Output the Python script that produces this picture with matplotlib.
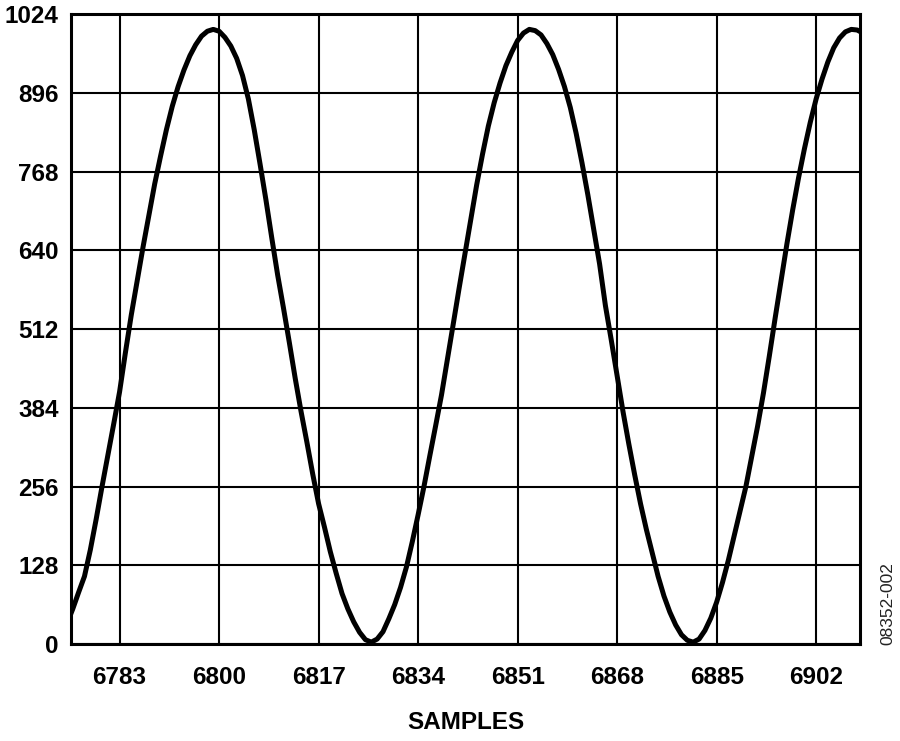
import matplotlib
matplotlib.use("Agg")
import matplotlib.pyplot as plt
import numpy as np

# one output code per sample (samples 6774 .. 6910)
samples = np.arange(6774, 6911)
codes = [
    33, 57, 84, 110, 153, 203, 256, 307, 358, 410,
    474, 535, 590, 645, 697, 748, 793, 836, 874, 906,
    933, 956, 974, 988, 996, 999, 996, 986, 972, 952,
    924, 886, 836, 780, 722, 660, 600, 546, 490, 432,
    378, 328, 276, 228, 190, 150, 115, 82, 57, 36,
    19, 7, 3, 8, 20, 41, 64, 92, 125, 166,
    210, 256, 306, 355, 405, 462, 520, 578, 634, 690,
    746, 796, 842, 880, 912, 940, 962, 981, 993, 999,
    997, 990, 976, 958, 934, 906, 872, 830, 782, 730,
    674, 618, 550, 494, 436, 378, 325, 275, 228, 186,
    148, 110, 78, 52, 31, 15, 6, 3, 8, 22,
    42, 68, 100, 136, 176, 216, 256, 305, 354, 408,
    468, 530, 590, 650, 706, 758, 805, 848, 886, 918,
    946, 969, 985, 995, 999, 998, 993,
]

x_ticks = [6783, 6800, 6817, 6834, 6851, 6868, 6885, 6902]
y_ticks = [0, 128, 256, 384, 512, 640, 768, 896, 1024]

plt.rcParams["font.family"] = ["Liberation Sans", "DejaVu Sans"]

fig = plt.figure(figsize=(9, 7.41), dpi=100)
ax = fig.add_axes([0.0789, 0.1309, 0.8767, 0.8502])

ax.plot(samples, codes, color="black", lw=3.6, solid_joinstyle="round", zorder=3)

ax.set_xlim(6774.7, 6909.5)
ax.set_ylim(0, 1024)
ax.set_xticks(x_ticks)
ax.set_yticks(y_ticks)
ax.grid(True, color="black", lw=1.5)
ax.tick_params(length=0, labelsize=17.5)
ax.tick_params(axis="x", pad=16)
ax.tick_params(axis="y", pad=9)
for lab in ax.get_xticklabels() + ax.get_yticklabels():
    lab.set_fontweight("bold")
for sp in ax.spines.values():
    sp.set_linewidth(2.2)
    sp.set_zorder(4)

ax.set_xlabel("SAMPLES", fontsize=17.5, fontweight="bold", labelpad=16)
fig.text(0.987, 0.186, "08352-002", rotation=90, fontsize=12.5,
         ha="center", va="center", color="#222222")

fig.savefig("out.png", dpi=100)
